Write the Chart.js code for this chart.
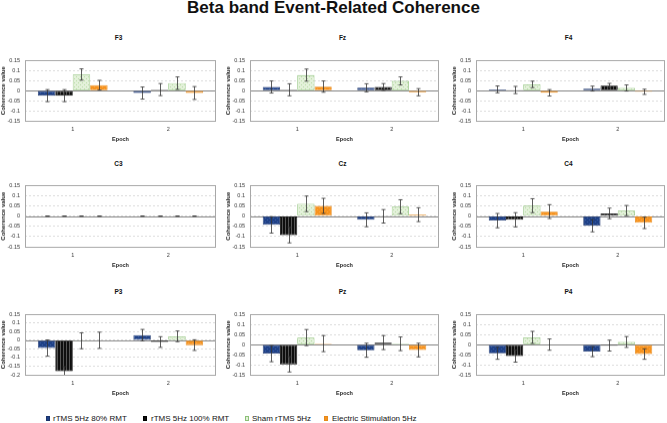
<!DOCTYPE html>
<html>
<head>
<meta charset="utf-8">
<script src="https://cdn.jsdelivr.net/npm/chart.js@4.4.1/dist/chart.umd.min.js"></script>
<style>
  html, body { margin: 0; padding: 0; background: #fff; }
  body { width: 667px; height: 423px; position: relative; overflow: hidden;
         font-family: "Liberation Sans", Arial, sans-serif; color: #111; }
  .main-title { position: absolute; left: 0; top: -1px; width: 667px; text-align: center;
                font-weight: bold; font-size: 17px; line-height: 18px; }
  .panel-title { position: absolute; text-align: center; font-weight: bold;
                 font-size: 6.5px; line-height: 8px; }
  .panel { position: absolute; }
  .swatch { position: absolute; top: 416px; width: 4px; height: 5px; box-sizing: border-box; border: 1px solid; }
  .legend-text { position: absolute; top: 414.5px; font-size: 8px; line-height: 8px; white-space: nowrap; color: #111; }
</style>
</head>
<body>
<div class="main-title">Beta band Event-Related Coherence</div>
<div id="root"></div>
<script>
// categories, series, tick labels
const epochs = ['1', '2'];
const seriesNames = ['rTMS 5Hz 80% RMT', 'rTMS 5Hz 100% RMT', 'Sham rTMS 5Hz', 'Electric Stimulation 5Hz'];
const yTicks = [0.15, 0.1, 0.05, 0, -0.05, -0.1, -0.15];
const yTicksP3 = [0.15, 0.1, 0.05, 0, -0.05, -0.1, -0.15, -0.2];

// mean coherence per series (rows) and epoch (columns), with error bar sizes
const F3_MEAN = [[-0.025, -0.012], [-0.025, 0.005], [0.08, 0.037], [0.027, -0.012]];
const F3_ERR  = [[0.03, 0.03], [0.03, 0.03], [0.028, 0.031], [0.024, 0.032]];
const FZ_MEAN = [[0.018, 0.014], [0.004, 0.018], [0.077, 0.048], [0.02, -0.008]];
const FZ_ERR  = [[0.03, 0.02], [0.03, 0.017], [0.03, 0.02], [0.028, 0.018]];
const F4_MEAN = [[0.006, 0.01], [0.003, 0.025], [0.031, 0.013], [-0.011, -0.006]];
const F4_ERR  = [[0.017, 0.012], [0.018, 0.011], [0.016, 0.015], [0.016, 0.013]];
const C3_MEAN = [[0, 0], [0, 0], [0, 0], [0, 0]];
const C3_ERR  = [[0, 0], [0, 0], [0, 0], [0, 0]];
const CZ_MEAN = [[-0.043, -0.018], [-0.093, -0.001], [0.06, 0.046], [0.05, 0.007]];
const CZ_ERR  = [[0.04, 0.034], [0.038, 0.033], [0.038, 0.034], [0.037, 0.034]];
const C4_MEAN = [[-0.022, -0.047], [-0.018, 0.013], [0.051, 0.027], [0.022, -0.033]];
const C4_ERR  = [[0.035, 0.03], [0.035, 0.026], [0.034, 0.025], [0.034, 0.028]];
const P3_MEAN = [[-0.045, 0.03], [-0.18, -0.01], [-0.003, 0.023], [0, -0.028]];
const P3_ERR  = [[0.047, 0.033], [0.027, 0.031], [0.046, 0.031], [0.047, 0.031]];
const PZ_MEAN = [[-0.045, -0.028], [-0.098, 0.01], [0.035, 0.004], [0.005, -0.027]];
const PZ_ERR  = [[0.04, 0.035], [0.038, 0.035], [0.04, 0.034], [0.04, 0.034]];
const P4_MEAN = [[-0.043, -0.035], [-0.057, -0.005], [0.036, 0.013], [0, -0.047]];
const P4_ERR  = [[0.03, 0.025], [0.03, 0.027], [0.03, 0.027], [0.028, 0.026]];

const panels = [
  { name: 'F3', mean: F3_MEAN, err: F3_ERR, ticks: yTicks },
  { name: 'Fz', mean: FZ_MEAN, err: FZ_ERR, ticks: yTicks },
  { name: 'F4', mean: F4_MEAN, err: F4_ERR, ticks: yTicks },
  { name: 'C3', mean: C3_MEAN, err: C3_ERR, ticks: yTicks },
  { name: 'Cz', mean: CZ_MEAN, err: CZ_ERR, ticks: yTicks },
  { name: 'C4', mean: C4_MEAN, err: C4_ERR, ticks: yTicks },
  { name: 'P3', mean: P3_MEAN, err: P3_ERR, ticks: yTicksP3 },
  { name: 'Pz', mean: PZ_MEAN, err: PZ_ERR, ticks: yTicks },
  { name: 'P4', mean: P4_MEAN, err: P4_ERR, ticks: yTicks },
];

// layout of plot areas (px)
const COLS = [[25, 216], [250, 439], [476, 665]];
const ROWS = [[57, 120], [182, 246], [311, 374]];
const TITLE_Y = [38, 164, 292];
const Y_AXIS_W = 25, X_AXIS_H = 21.5, PAD_TOP = 5, PAD_RIGHT = 2;

const FONT = "'Liberation Sans', Arial, sans-serif";
Chart.defaults.font.family = FONT;
Chart.defaults.color = '#222';

// small fill textures like the excel ones
function makePattern(w, h, bg, fg, cells) {
  const c = document.createElement('canvas');
  c.width = w; c.height = h;
  const g = c.getContext('2d');
  g.fillStyle = bg;
  g.fillRect(0, 0, w, h);
  g.fillStyle = fg;
  cells.forEach(([x, y, cw, ch]) => g.fillRect(x, y, cw, ch));
  return g.createPattern(c, 'repeat');
}

const fills = [
  makePattern(4, 4, '#1f4187', '#3b60a6', [[0, 0, 1, 1], [2, 2, 1, 1]]),
  makePattern(3, 1, '#0e0e0e', '#555555', [[0, 0, 1, 1]]),
  makePattern(4, 4, '#e3f1da', '#b9dba6', [[0, 0, 1, 1], [2, 2, 1, 1]]),
  makePattern(4, 4, '#f7931e', '#f9a848', [[0, 0, 1, 1], [2, 2, 1, 1]]),
];
const borders = ['#1a336b', '#000000', '#8cc078', '#e5891a'];
const swatchFill = ['#1f4187', '#0e0e0e', '#e3f1da', '#f7931e'];

// zero line under the bars
const zeroLine = {
  id: 'zeroLine',
  beforeDatasetsDraw(chart) {
    const { ctx, chartArea: a } = chart;
    const y = Math.round(chart.scales.y.getPixelForValue(0)) + 0.5;
    ctx.save();
    ctx.strokeStyle = '#8a8a8a';
    ctx.lineWidth = 1;
    ctx.beginPath();
    ctx.moveTo(a.left, y);
    ctx.lineTo(a.right, y);
    ctx.stroke();
    ctx.restore();
  }
};

// error bars from dataset.errors, through the y scale
const errorBars = {
  id: 'errorBars',
  afterDatasetsDraw(chart) {
    const { ctx, chartArea: a } = chart;
    const ys = chart.scales.y;
    ctx.save();
    ctx.beginPath();
    ctx.rect(a.left, a.top, a.right - a.left, a.bottom - a.top + 1);
    ctx.clip();
    ctx.strokeStyle = '#333';
    ctx.lineWidth = 0.8;
    chart.data.datasets.forEach((ds, i) => {
      chart.getDatasetMeta(i).data.forEach((bar, j) => {
        const v = ds.data[j], e = ds.errors[j];
        const x = Math.round(bar.x) + 0.5;
        const top = ys.getPixelForValue(v + e);
        const bot = ys.getPixelForValue(v - e);
        ctx.beginPath();
        ctx.moveTo(x, top); ctx.lineTo(x, bot);
        ctx.moveTo(x - 2, top); ctx.lineTo(x + 2, top);
        ctx.moveTo(x - 2, bot); ctx.lineTo(x + 2, bot);
        ctx.stroke();
      });
    });
    ctx.restore();
  }
};

// gray box around the plot
const frame = {
  id: 'frame',
  afterDraw(chart) {
    const { ctx, chartArea: a } = chart;
    ctx.save();
    ctx.strokeStyle = '#a8a8a8';
    ctx.lineWidth = 1;
    ctx.strokeRect(Math.round(a.left) + 0.5, Math.round(a.top) + 0.5,
      Math.round(a.right - a.left) - 1, Math.round(a.bottom - a.top));
    ctx.restore();
  }
};

const root = document.getElementById('root');

panels.forEach((p, k) => {
  const [pl, pr] = COLS[k % 3];
  const [pt, pb] = ROWS[Math.floor(k / 3)];

  const title = document.createElement('div');
  title.className = 'panel-title';
  title.textContent = p.name;
  title.style.left = (pl - 2) + 'px';
  title.style.width = (pr - pl) + 'px';
  title.style.top = (TITLE_Y[Math.floor(k / 3)] - 4) + 'px';
  root.appendChild(title);

  const box = document.createElement('div');
  box.className = 'panel';
  box.style.left = (pl - Y_AXIS_W) + 'px';
  box.style.top = (pt - PAD_TOP) + 'px';
  box.style.width = (pr - pl + Y_AXIS_W + PAD_RIGHT) + 'px';
  box.style.height = (PAD_TOP + pb - pt + X_AXIS_H) + 'px';
  const canvas = document.createElement('canvas');
  box.appendChild(canvas);
  root.appendChild(box);

  new Chart(canvas, {
    type: 'bar',
    data: {
      labels: epochs,
      datasets: seriesNames.map((name, i) => ({
        label: name,
        data: p.mean[i],
        errors: p.err[i],
        backgroundColor: fills[i],
        borderColor: borders[i],
        borderWidth: 0.8,
        borderSkipped: false,
        categoryPercentage: 0.73,
        barPercentage: 1,
      }))
    },
    options: {
      responsive: true,
      maintainAspectRatio: false,
      animation: false,
      devicePixelRatio: 1,
      layout: { padding: { top: PAD_TOP, right: PAD_RIGHT, left: 0, bottom: 0 } },
      plugins: { legend: { display: false }, tooltip: { enabled: false } },
      scales: {
        x: {
          grid: { display: false, drawTicks: false },
          border: { display: false },
          ticks: { font: { size: 5.5 }, padding: 5, color: '#333' },
          title: { display: true, text: 'Epoch', font: { size: 5.5, weight: 'bold' }, padding: 0, color: '#222' },
          afterFit: s => { s.height = X_AXIS_H; }
        },
        y: {
          min: p.ticks[p.ticks.length - 1],
          max: p.ticks[0],
          afterBuildTicks: s => { s.ticks = p.ticks.map(v => ({ value: v })); },
          grid: { color: '#cdcdcd', lineWidth: 0.7, drawTicks: false },
          border: { display: false, dash: [2, 2] },
          ticks: {
            font: { size: 5.5 }, padding: 5, color: '#333', autoSkip: false,
            callback: v => String(Math.round(v * 100) / 100)
          },
          title: { display: true, text: 'Coherence value', font: { size: 6, weight: 'bold' }, padding: 0, color: '#222' },
          afterFit: s => { s.width = Y_AXIS_W; }
        }
      }
    },
    plugins: [zeroLine, errorBars, frame]
  });
});

// shared legend along the bottom
const legendX = [[46, 53], [143, 151], [245, 252], [323.5, 332]];
seriesNames.forEach((name, i) => {
  const sw = document.createElement('div');
  sw.className = 'swatch';
  sw.style.left = legendX[i][0] + 'px';
  sw.style.background = swatchFill[i];
  sw.style.borderColor = borders[i];
  root.appendChild(sw);
  const t = document.createElement('div');
  t.className = 'legend-text';
  t.style.left = legendX[i][1] + 'px';
  t.textContent = name;
  root.appendChild(t);
});
</script>
</body>
</html>
